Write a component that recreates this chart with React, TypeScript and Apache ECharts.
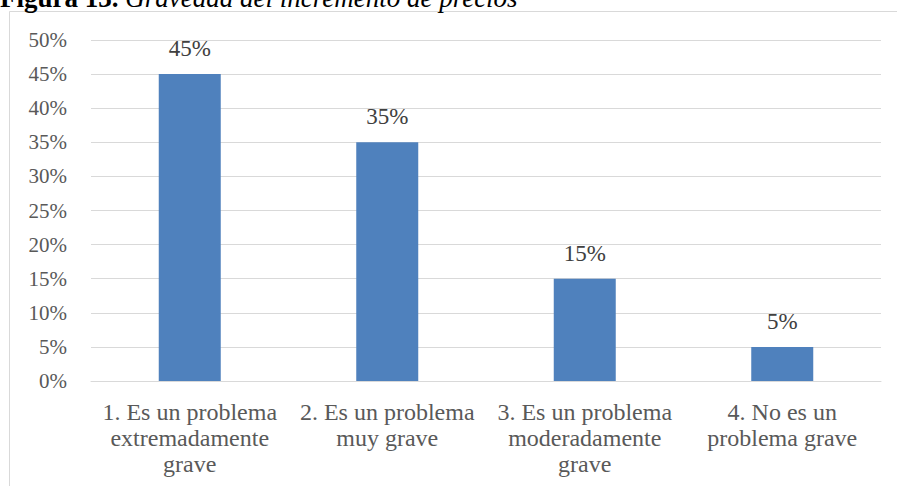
import React, { useEffect, useRef } from "react";
import * as echarts from "echarts";

const categories = [
  "1. Es un problema\nextremadamente\ngrave",
  "2. Es un problema\nmuy grave",
  "3. Es un problema\nmoderadamente\ngrave",
  "4. No es un\nproblema grave",
];
const values = [0.45, 0.35, 0.15, 0.05];
const titleBold = "Figura 13.";
const titleItalic = " Gravedad del incremento de precios";

const FONT = "Liberation Serif";

export default function App() {
  const ref = useRef<HTMLDivElement>(null);
  useEffect(() => {
    if (!ref.current) return;
    const chart = echarts.init(ref.current, null, { renderer: "svg" });
    chart.setOption({
      animation: false,
      backgroundColor: "#ffffff",
      textStyle: { fontFamily: FONT },
      grid: { left: 91, right: 16, top: 40, bottom: 105, containLabel: false },
      graphic: [
        {
          type: "rect",
          shape: { x: 9.5, y: 11.5, width: 920, height: 520 },
          style: { fill: "none", stroke: "#d9d9d9", lineWidth: 1 },
          silent: true,
          z: -1,
        },
        {
          type: "text",
          x: 0,
          y: -2,
          style: {
            text: `{b|${titleBold}}{i|${titleItalic}}`,
            verticalAlign: "middle",
            rich: {
              b: { fontFamily: FONT, fontWeight: "bold", fontSize: 27, fill: "#000" },
              i: { fontFamily: FONT, fontStyle: "italic", fontSize: 27, fill: "#000" },
            },
          },
        },
      ],
      xAxis: {
        type: "category",
        data: categories,
        axisLine: { show: true, lineStyle: { color: "#d9d9d9", width: 1 } },
        axisTick: { show: false },
        axisLabel: {
          interval: 0,
          margin: 18,
          color: "#595959",
          fontFamily: FONT,
          fontSize: 24,
          lineHeight: 26,
        },
      },
      yAxis: {
        type: "value",
        min: 0,
        max: 0.5,
        interval: 0.05,
        axisLine: { show: false },
        axisTick: { show: false },
        splitLine: { lineStyle: { color: "#d9d9d9", width: 1 } },
        axisLabel: {
          margin: 24,
          color: "#595959",
          fontFamily: FONT,
          fontSize: 21,
          formatter: (v: number) => `${Math.round(v * 100)}%`,
        },
      },
      series: [
        {
          type: "bar",
          data: values,
          barWidth: 62,
          itemStyle: { color: "#4f81bd" },
          label: {
            show: true,
            position: "top",
            distance: 14,
            color: "#404040",
            fontFamily: FONT,
            fontSize: 23,
            formatter: (p: any) => `${Math.round(p.value * 100)}%`,
          },
        },
      ],
    });
    return () => chart.dispose();
  }, []);
  return (
    <div
      ref={ref}
      style={{ position: "absolute", left: 0, top: 0, width: 897, height: 486 }}
    />
  );
}
